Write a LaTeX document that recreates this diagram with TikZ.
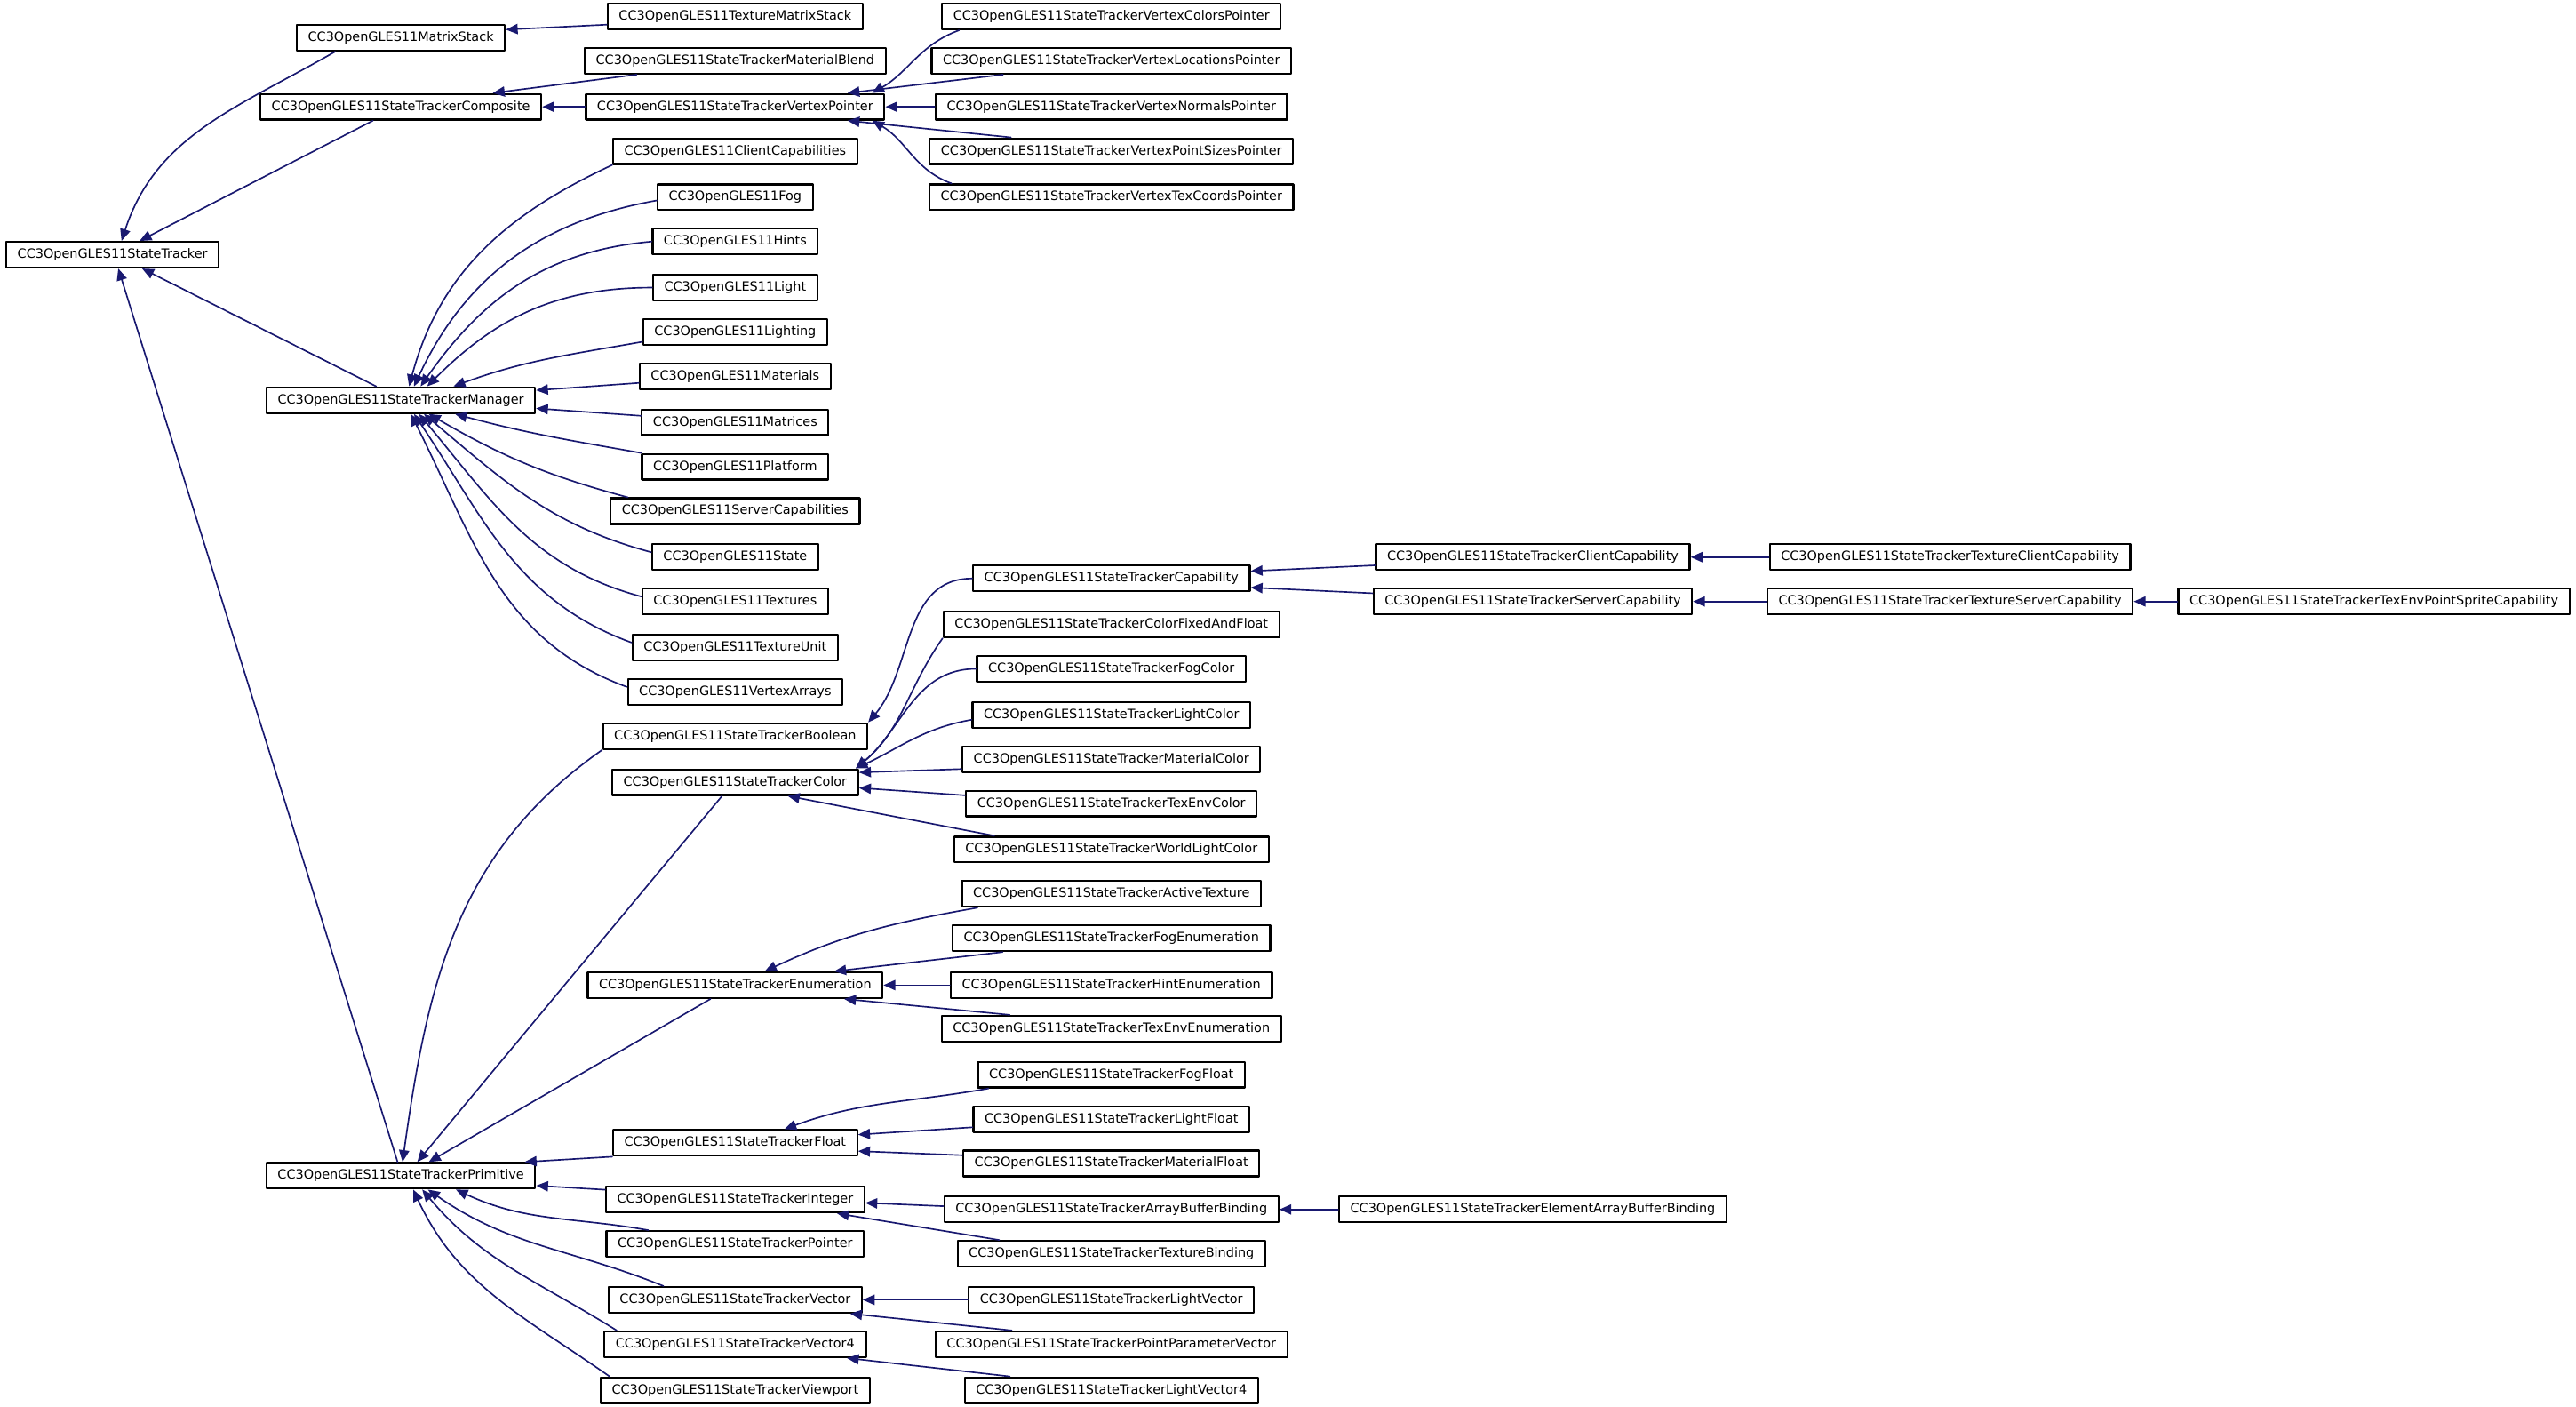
\documentclass[tikz,border=0pt]{standalone}
\usepackage{fontspec}
\usepackage{tikz}
\usetikzlibrary{arrows.meta}

\newfontfamily\doxfont{DejaVu Sans}
\definecolor{dxnavy}{RGB}{25,25,112}

\begin{document}
\begin{tikzpicture}[x=0.5pt, y=0.5pt, line cap=round, line join=round,
  cls/.style={draw=black, line width=0.6pt, fill=white,
    font={\doxfont\fontsize{3.9}{4}\selectfont},
    inner xsep=3.4pt, inner ysep=0pt, minimum height=7.8pt},
  inh/.style={draw=dxnavy, line width=0.45pt,
    -{Triangle[length=3.6pt,width=3.1pt]}}]

  \useasboundingbox (0,0) rectangle (1568,-856);

  % ===== ランク 0 =====
  \node[cls] (st) at (68.5,-155) {CC3OpenGLES11StateTracker};

  % ===== ランク 1 =====
  \node[cls] (mst)  at (244,-23)  {CC3OpenGLES11MatrixStack};
  \node[cls] (comp) at (244,-65)  {CC3OpenGLES11StateTrackerComposite};
  \node[cls] (mgr)  at (244,-243.5) {CC3OpenGLES11StateTrackerManager};
  \node[cls] (prim) at (244,-715.5) {CC3OpenGLES11StateTrackerPrimitive};

  % ===== ランク 2 =====
  \node[cls] (tms)       at (447.5,-10)  {CC3OpenGLES11TextureMatrixStack};
  \node[cls] (mblend)    at (447.5,-37)  {CC3OpenGLES11StateTrackerMaterialBlend};
  \node[cls] (vptr)      at (447.5,-65)  {CC3OpenGLES11StateTrackerVertexPointer};
  \node[cls] (clicaps)   at (447.5,-92)  {CC3OpenGLES11ClientCapabilities};
  \node[cls] (fog)       at (447.5,-120) {CC3OpenGLES11Fog};
  \node[cls] (hints)     at (447.5,-147) {CC3OpenGLES11Hints};
  \node[cls] (light)     at (447.5,-175) {CC3OpenGLES11Light};
  \node[cls] (lighting)  at (447.5,-202) {CC3OpenGLES11Lighting};
  \node[cls] (materials) at (447.5,-229) {CC3OpenGLES11Materials};
  \node[cls] (matrices)  at (447.5,-257) {CC3OpenGLES11Matrices};
  \node[cls] (platform)  at (447.5,-284) {CC3OpenGLES11Platform};
  \node[cls] (srvcaps)   at (447.5,-311) {CC3OpenGLES11ServerCapabilities};
  \node[cls] (state)     at (447.5,-339) {CC3OpenGLES11State};
  \node[cls] (textures)  at (447.5,-366) {CC3OpenGLES11Textures};
  \node[cls] (texunit)   at (447.5,-394) {CC3OpenGLES11TextureUnit};
  \node[cls] (varrays)   at (447.5,-421) {CC3OpenGLES11VertexArrays};
  \node[cls] (bool)      at (447.5,-448) {CC3OpenGLES11StateTrackerBoolean};
  \node[cls] (color)     at (447.5,-476) {CC3OpenGLES11StateTrackerColor};
  \node[cls] (enum)      at (447.5,-599.5) {CC3OpenGLES11StateTrackerEnumeration};
  \node[cls] (float)     at (447.5,-695.5) {CC3OpenGLES11StateTrackerFloat};
  \node[cls] (int)       at (447.5,-730) {CC3OpenGLES11StateTrackerInteger};
  \node[cls] (ptr)       at (447.5,-757) {CC3OpenGLES11StateTrackerPointer};
  \node[cls] (vec)       at (447.5,-791) {CC3OpenGLES11StateTrackerVector};
  \node[cls] (vecf)      at (447.5,-818) {CC3OpenGLES11StateTrackerVector4};
  \node[cls] (vport)     at (447.5,-846) {CC3OpenGLES11StateTrackerViewport};

  % ===== ランク 3 =====
  \node[cls] (vcol)       at (676.5,-10)  {CC3OpenGLES11StateTrackerVertexColorsPointer};
  \node[cls] (vloc)       at (676.5,-37)  {CC3OpenGLES11StateTrackerVertexLocationsPointer};
  \node[cls] (vnorm)      at (676.5,-65)  {CC3OpenGLES11StateTrackerVertexNormalsPointer};
  \node[cls] (vpsz)       at (676.5,-92)  {CC3OpenGLES11StateTrackerVertexPointSizesPointer};
  \node[cls] (vtex)       at (676.5,-120) {CC3OpenGLES11StateTrackerVertexTexCoordsPointer};
  \node[cls] (cap)        at (676.5,-352) {CC3OpenGLES11StateTrackerCapability};
  \node[cls] (cfaf)       at (676.5,-380) {CC3OpenGLES11StateTrackerColorFixedAndFloat};
  \node[cls] (fogcol)     at (676.5,-407) {CC3OpenGLES11StateTrackerFogColor};
  \node[cls] (lightcol)   at (676.5,-435) {CC3OpenGLES11StateTrackerLightColor};
  \node[cls] (matcol)     at (676.5,-462) {CC3OpenGLES11StateTrackerMaterialColor};
  \node[cls] (tecol)      at (676.5,-489) {CC3OpenGLES11StateTrackerTexEnvColor};
  \node[cls] (wlcol)      at (676.5,-517) {CC3OpenGLES11StateTrackerWorldLightColor};
  \node[cls] (acttex)     at (676.5,-544) {CC3OpenGLES11StateTrackerActiveTexture};
  \node[cls] (fogenum)    at (676.5,-571) {CC3OpenGLES11StateTrackerFogEnumeration};
  \node[cls] (hintenum)   at (676.5,-599.5) {CC3OpenGLES11StateTrackerHintEnumeration};
  \node[cls] (teenum)     at (676.5,-626) {CC3OpenGLES11StateTrackerTexEnvEnumeration};
  \node[cls] (fogfloat)   at (676.5,-654) {CC3OpenGLES11StateTrackerFogFloat};
  \node[cls] (lightfloat) at (676.5,-681) {CC3OpenGLES11StateTrackerLightFloat};
  \node[cls] (matfloat)   at (676.5,-708) {CC3OpenGLES11StateTrackerMaterialFloat};
  \node[cls] (abb)        at (676.5,-736) {CC3OpenGLES11StateTrackerArrayBufferBinding};
  \node[cls] (texbind)    at (676.5,-763) {CC3OpenGLES11StateTrackerTextureBinding};
  \node[cls] (lvec)       at (676.5,-791) {CC3OpenGLES11StateTrackerLightVector};
  \node[cls] (ppvec)      at (676.5,-818) {CC3OpenGLES11StateTrackerPointParameterVector};
  \node[cls] (lvecf)      at (676.5,-846) {CC3OpenGLES11StateTrackerLightVector4};

  % ===== ランク 4〜6 =====
  \node[cls] (clicap)  at (933,-339)  {CC3OpenGLES11StateTrackerClientCapability};
  \node[cls] (srvcap)  at (933,-366)  {CC3OpenGLES11StateTrackerServerCapability};
  \node[cls] (eabb)    at (933,-736)  {CC3OpenGLES11StateTrackerElementArrayBufferBinding};
  \node[cls] (tclicap) at (1187,-339) {CC3OpenGLES11StateTrackerTextureClientCapability};
  \node[cls] (tsrvcap) at (1187,-366) {CC3OpenGLES11StateTrackerTextureServerCapability};
  \node[cls] (tepsc)   at (1445,-366) {CC3OpenGLES11StateTrackerTexEnvPointSpriteCapability};

  % ===== 継承 -> StateTracker =====
  \draw[inh] ([xshift=-20pt]mst.south) to[out=-150,in=72] ([xshift=2.75pt]st.north);
  \draw[inh] ([xshift=-8.5pt]comp.south) -- ([xshift=8.25pt]st.north);
  \draw[inh] ([xshift=-7.5pt]mgr.north) -- ([xshift=9pt]st.south);
  \draw[inh] ([xshift=-1pt]prim.north) -- ([xshift=1.75pt]st.south);

  % ===== MatrixStack / Composite =====
  \draw[inh] ([yshift=-2.5pt]tms.west) -- ([yshift=2.5pt]mst.east);
  \draw[inh] ([xshift=-30pt]mblend.south) -- ([xshift=28pt]comp.north);
  \draw[inh] (vptr.west) -- (comp.east);

  % ===== VertexPointer =====
  \draw[inh] ([xshift=5.5pt]vcol.south west) to[out=200,in=30] ([xshift=-4pt]vptr.north east);
  \draw[inh] ([xshift=22pt]vloc.south west) -- ([xshift=-11.5pt]vptr.north east);
  \draw[inh] (vnorm.west) -- (vptr.east);
  \draw[inh] ([xshift=25pt]vpsz.north west) -- ([xshift=-11.5pt]vptr.south east);
  \draw[inh] ([xshift=7pt]vtex.north west) to[out=160,in=-30] ([xshift=-4pt]vptr.south east);

  % ===== Manager =====
  \draw[inh] (clicaps.south west) to[out=205,in=75] ([xshift=2.5pt]mgr.north);
  \draw[inh] ([yshift=-1pt]fog.west) to[out=190,in=65] ([xshift=4pt]mgr.north);
  \draw[inh] (hints.west) to[out=185,in=55] ([xshift=6pt]mgr.north);
  \draw[inh] (light.west) to[out=180,in=45] ([xshift=8pt]mgr.north);
  \draw[inh] ([yshift=-3pt]lighting.west) to[out=190,in=20] ([xshift=16pt]mgr.north);
  \draw[inh] ([yshift=-2pt]materials.west) -- ([yshift=3pt]mgr.east);
  \draw[inh] ([yshift=2pt]matrices.west) -- ([yshift=-2.5pt]mgr.east);
  \draw[inh] (platform.north west) to[out=170,in=-15] ([xshift=16.5pt]mgr.south);
  \draw[inh] ([xshift=5.5pt]srvcaps.north west) to[out=165,in=-30] ([xshift=8.5pt]mgr.south);
  \draw[inh] ([yshift=1.5pt]state.west) to[out=165,in=-40] ([xshift=7pt]mgr.south);
  \draw[inh] ([yshift=1.5pt]textures.west) to[out=165,in=-50] ([xshift=5.5pt]mgr.south);
  \draw[inh] ([yshift=1.5pt]texunit.west) to[out=160,in=-56] ([xshift=4pt]mgr.south);
  \draw[inh] ([yshift=1.5pt]varrays.west) to[out=160,in=-63] ([xshift=3pt]mgr.south);

  % ===== Primitive =====
  \draw[inh] (bool.south west) to[out=215,in=82] ([xshift=0.5pt]prim.north);
  \draw[inh] ([xshift=-4pt]color.south) -- ([xshift=5pt]prim.north);
  \draw[inh] ([xshift=-7.5pt]enum.south) -- ([xshift=8.5pt]prim.north);
  \draw[inh] (float.south west) -- ([xshift=-3.5pt]prim.north east);
  \draw[inh] ([yshift=3pt]int.west) -- ([yshift=-3pt]prim.east);
  \draw[inh] ([xshift=13pt]ptr.north west) to[out=170,in=-25] ([xshift=16.75pt]prim.south);
  \draw[inh] ([xshift=17pt]vec.north west) to[out=158,in=-35] ([xshift=8.25pt]prim.south);
  \draw[inh] ([xshift=4pt]vecf.north west) to[out=148,in=-50] ([xshift=6.5pt]prim.south);
  \draw[inh] ([xshift=3pt]vport.north west) to[out=145,in=-65] ([xshift=3.75pt]prim.south);

  % ===== Boolean / Color =====
  \draw[inh] (cap.west) to[out=180,in=50] (bool.north east);
  \draw[inh] (cfaf.south west) to[out=235,in=40] ([xshift=-1pt]color.north east);
  \draw[inh] (fogcol.west) to[out=180,in=40] ([xshift=-1pt]color.north east);
  \draw[inh] ([yshift=-1.5pt]lightcol.west) to[out=190,in=25] ([xshift=-1pt]color.north east);
  \draw[inh] ([yshift=-3pt]matcol.west) -- ([yshift=-1.25pt]color.north east);
  \draw[inh] ([yshift=2.5pt]tecol.west) -- ([yshift=-1.75pt]color.east);
  \draw[inh] ([xshift=12.5pt]wlcol.north west) -- ([xshift=16pt]color.south);

  % ===== Enumeration =====
  \draw[inh] ([xshift=5pt]acttex.south west) to[out=190,in=25] ([xshift=9pt]enum.north);
  \draw[inh] ([xshift=15.5pt]fogenum.south west) -- ([xshift=-15pt]enum.north east);
  \draw[inh] (hintenum.west) -- (enum.east);
  \draw[inh] ([xshift=21pt]teenum.north west) -- ([xshift=-12pt]enum.south east);

  % ===== Float / Integer / Vector =====
  \draw[inh] ([xshift=3.5pt]fogfloat.south west) to[out=190,in=20] ([xshift=15pt]float.north);
  \draw[inh] ([yshift=-2.5pt]lightfloat.west) -- ([yshift=2.5pt]float.east);
  \draw[inh] ([yshift=2.5pt]matfloat.west) -- ([yshift=-2.5pt]float.east);
  \draw[inh] ([yshift=1pt]abb.west) -- ([yshift=-1pt]int.east);
  \draw[inh] ([xshift=13pt]texbind.north west) -- ([xshift=31pt]int.south);
  \draw[inh] (lvec.west) -- (vec.east);
  \draw[inh] ([xshift=23.5pt]ppvec.north west) -- ([xshift=35pt]vec.south);
  \draw[inh] ([xshift=14pt]lvecf.north west) -- ([xshift=34pt]vecf.south);

  % ===== Capability 系 =====
  \draw[inh] ([yshift=-2.5pt]clicap.west) -- ([yshift=2.25pt]cap.east);
  \draw[inh] ([yshift=2.5pt]srvcap.west) -- ([yshift=-2.75pt]cap.east);
  \draw[inh] (tclicap.west) -- (clicap.east);
  \draw[inh] (tsrvcap.west) -- (srvcap.east);
  \draw[inh] (tepsc.west) -- (tsrvcap.east);
  \draw[inh] (eabb.west) -- (abb.east);

\end{tikzpicture}
\end{document}
